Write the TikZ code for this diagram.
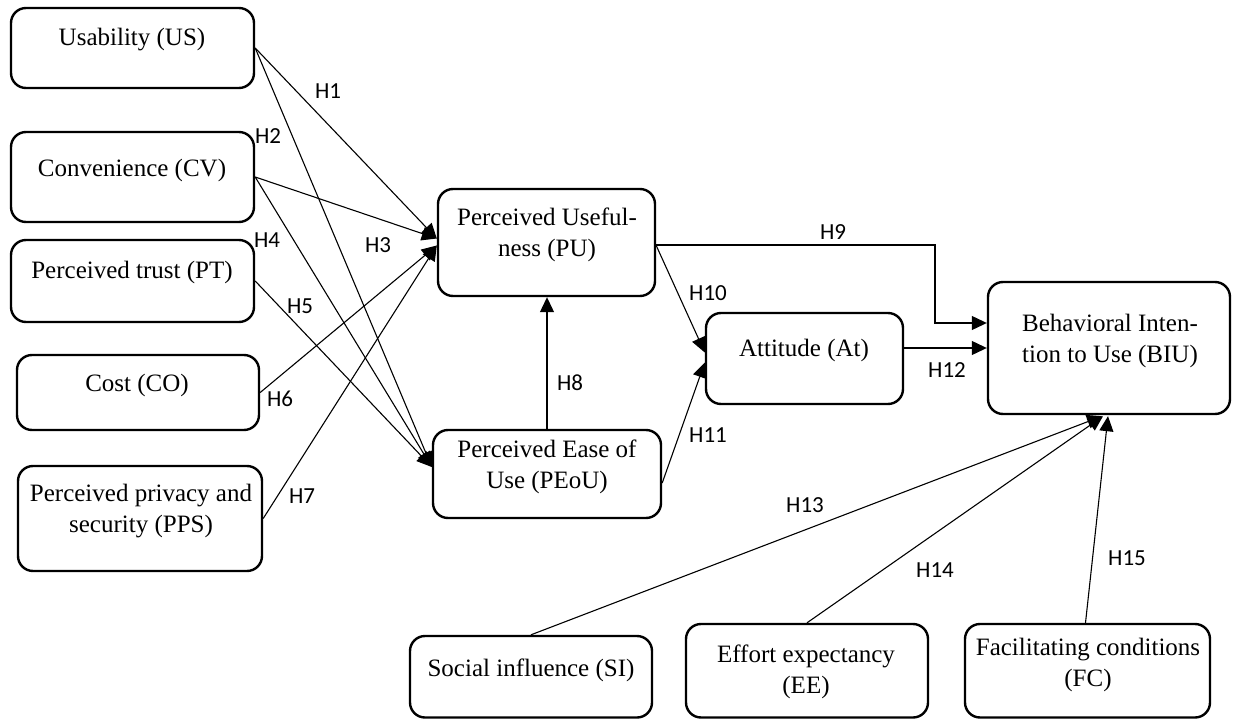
\documentclass[tikz,border=0pt]{standalone}
\usepackage{fontspec}
\setmainfont{Liberation Serif}
\newfontfamily\hfont{Carlito}
\usetikzlibrary{arrows.meta,calc}
\tikzset{
  box/.style={draw, line width=2.4pt, rounded corners=15pt, inner sep=0pt},
  txt/.style={align=center, inner sep=0pt, font=\fontsize{25}{31}\selectfont},
  hyp/.style={inner sep=0pt, font=\hfont\fontsize{23}{26}\selectfont},
  conn/.style={line width=1.1pt, -{Triangle[length=15pt,width=14pt]}},
}
\newcommand{\mkbox}[5]{\node[box, minimum width=#4-#2, minimum height=#5-#3] (#1) at ({(#2+#4)/2},{(#3+#5)/2}) {};}
\begin{document}
\begin{tikzpicture}[x=1pt,y=-1pt]
\useasboundingbox (0,0) rectangle (1233,719);
% boxes
\mkbox{us}{11}{8}{254}{88}
\mkbox{cv}{11}{132}{254}{222}
\mkbox{pt}{11}{240}{254}{322}
\mkbox{co}{17}{355}{259}{430}
\mkbox{pps}{18}{466}{262}{571}
\mkbox{pu}{438}{189}{655}{296}
\mkbox{peou}{433}{430}{661}{518}
\mkbox{at}{706}{313}{903}{404}
\mkbox{biu}{988}{282}{1230}{414}
\mkbox{si}{410}{636}{652}{717.5}
\mkbox{ee}{686}{624}{928}{717.5}
\mkbox{fc}{965}{624}{1210}{717.5}
% texts
\node[txt] (tus) at (132,40) {Usability (US)};
\node[txt] (tcv) at (132,170) {Convenience (CV)};
\node[txt] (tpt) at (132,272) {Perceived trust (PT)};
\node[txt] (tco) at (137,385) {Cost (CO)};
\node[txt] (tpps) at (141,511) {Perceived privacy and\\security (PPS)};
\node[txt] (tpu) at (547,234.5) {Perceived Useful-\\ness (PU)};
\node[txt] (tpeou) at (547,467) {Perceived Ease of\\Use (PEoU)};
\node[txt] (tat) at (804,350) {Attitude (At)};
\node[txt] (tbiu) at (1110,341) {Behavioral Inten-\\tion to Use (BIU)};
\node[txt] (tsi) at (531,670) {Social influence (SI)};
\node[txt] (tee) at (806,672) {Effort expectancy\\(EE)};
\node[txt] (tfc) at (1088,665) {Facilitating conditions\\(FC)};
% connectors
\draw[conn] (us.east) -- ($(pu.west)+(0,-4)$);
\draw[conn] (us.east) -- ($(peou.west)+(0,-7)$);
\draw[conn] (cv.east) -- ($(pu.west)+(0,-4)$);
\draw[conn] (cv.east) -- ($(peou.west)+(0,-7)$);
\draw[conn] (pt.east) -- ($(peou.west)+(0,-7)$);
\draw[conn] (co.east) -- ($(pu.west)+(0,3)$);
\draw[conn] (pps.east) -- ($(pu.west)+(0,3)$);
\draw[conn] (peou.north) -- (peou.north |- pu.south);
\coordinate (h9c) at (935,245);
\draw[conn] (pu.east |- h9c) -- (h9c) -- (h9c |- {$(biu.west)+(0,-25)$}) -- ($(biu.west)+(0,-25)$);
\draw[conn] ($(pu.east)+(0,3)$) -- ($(at.west)+(0,-6)$);
\draw[conn] ($(peou.east)+(0,9)$) -- ($(at.west)+(0,4)$);
\draw[conn] (at.east |- biu.west) -- (biu.west);
\draw[conn] (si.north) -- ($(biu.south)+(-7,1)$);
\draw[conn] (ee.north) -- ($(biu.south)+(-6,1)$);
\draw[conn] ($(fc.north)+(-2,0)$) -- ($(biu.south)+(-1,1)$);
% hypothesis labels
\node[hyp] (h1) at (328,91) {H1};
\node[hyp] (h2) at (268,136) {H2};
\node[hyp] (h3) at (378,245) {H3};
\node[hyp] (h4) at (267,240) {H4};
\node[hyp] (h5) at (300,306) {H5};
\node[hyp] (h6) at (280,399) {H6};
\node[hyp] (h7) at (302,496) {H7};
\node[hyp] (h8) at (570,383) {H8};
\node[hyp] (h9) at (833,232) {H9};
\node[hyp] (h10) at (708,293) {H10};
\node[hyp] (h11) at (708,435) {H11};
\node[hyp] (h12) at (947,370) {H12};
\node[hyp] (h13) at (805,505) {H13};
\node[hyp] (h14) at (935,570) {H14};
\node[hyp] (h15) at (1127,558) {H15};
\end{tikzpicture}
\end{document}
